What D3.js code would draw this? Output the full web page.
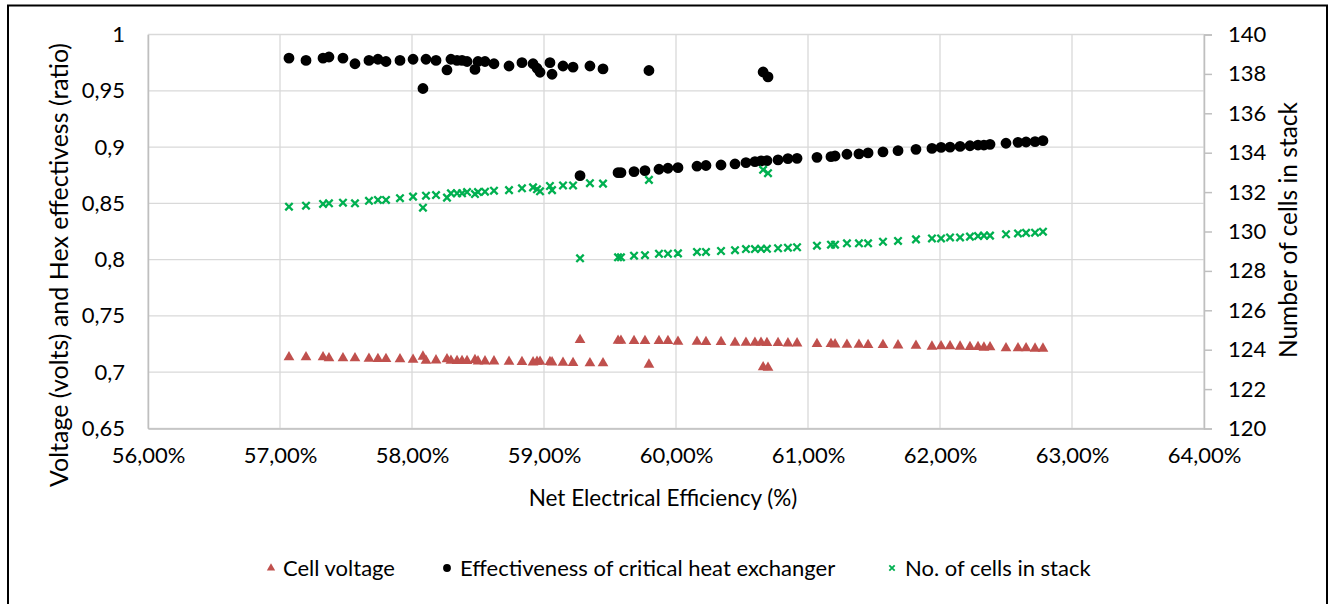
<!DOCTYPE html>
<html>
<head>
<meta charset="utf-8">
<script src="https://cdn.jsdelivr.net/npm/d3@7"></script>
<style>
  body { margin: 0; background: #fff; }
  svg { display: block; font-family: Lato, "Open Sans", sans-serif; }
</style>
</head>
<body>
<svg id="chart" width="1335" height="604"></svg>
<script>

// net electrical efficiency (%), shared by all three series
const efficiency = [
    57.068, 57.197, 57.326, 57.371, 57.477, 57.568, 57.674, 57.742, 57.803, 57.909,
    58.008, 58.083, 58.106, 58.182, 58.265, 58.295, 58.341, 58.379, 58.417, 58.477,
    58.500, 58.553, 58.621, 58.735, 58.833, 58.917, 58.947, 58.970, 59.045, 59.061,
    59.144, 59.220, 59.273, 59.348, 59.447, 59.561, 59.583, 59.682, 59.765, 59.795,
    59.871, 59.939, 60.015, 60.159, 60.227, 60.341, 60.447, 60.530, 60.598, 60.644,
    60.660, 60.689, 60.697, 60.773, 60.848, 60.917, 61.068, 61.174, 61.205, 61.295,
    61.386, 61.455, 61.568, 61.682, 61.818, 61.939, 62.008, 62.076, 62.152, 62.227,
    62.288, 62.333, 62.379, 62.500, 62.591, 62.652, 62.720, 62.780
];

const cellVoltage = [
    0.7133, 0.7133, 0.7133, 0.7124, 0.7124, 0.7124, 0.7121, 0.7118, 0.7118, 0.7115,
    0.7112, 0.7139, 0.7103, 0.7106, 0.7115, 0.7103, 0.7100, 0.7100, 0.7100, 0.7109,
    0.7097, 0.7097, 0.7097, 0.7094, 0.7091, 0.7088, 0.7094, 0.7094, 0.7091, 0.7088,
    0.7085, 0.7083, 0.7287, 0.7080, 0.7080, 0.7281, 0.7281, 0.7278, 0.7278, 0.7068,
    0.7278, 0.7278, 0.7272, 0.7272, 0.7269, 0.7269, 0.7263, 0.7263, 0.7263, 0.7263,
    0.7045, 0.7260, 0.7040, 0.7260, 0.7257, 0.7257, 0.7251, 0.7251, 0.7248, 0.7245,
    0.7245, 0.7242, 0.7242, 0.7239, 0.7236, 0.7228, 0.7231, 0.7231, 0.7228, 0.7225,
    0.7225, 0.7219, 0.7222, 0.7213, 0.7213, 0.7213, 0.7210, 0.7210
];

const hexEffectiveness = [
    0.979, 0.977, 0.979, 0.980, 0.979, 0.974, 0.977, 0.978, 0.976, 0.977,
    0.978, 0.952, 0.978, 0.977, 0.9685, 0.978, 0.977, 0.977, 0.976, 0.969,
    0.976, 0.976, 0.974, 0.972, 0.975, 0.974, 0.970, 0.9665, 0.975, 0.9647,
    0.972, 0.971, 0.8746, 0.972, 0.9694, 0.8773, 0.8773, 0.8782, 0.8791, 0.968,
    0.8803, 0.8812, 0.8817, 0.8830, 0.8836, 0.8841, 0.8850, 0.8862, 0.8871, 0.8877,
    0.9667, 0.8880, 0.9623, 0.8886, 0.8897, 0.8900, 0.8909, 0.8915, 0.8921, 0.8936,
    0.8939, 0.8948, 0.8957, 0.8968, 0.8980, 0.8988, 0.8997, 0.9000, 0.9006, 0.9012,
    0.9018, 0.9018, 0.9024, 0.9034, 0.9042, 0.9045, 0.9048, 0.9057
];

const cellsInStack = [
    131.26, 131.31, 131.40, 131.43, 131.46, 131.43, 131.56, 131.60, 131.60, 131.69,
    131.77, 131.21, 131.82, 131.85, 131.72, 131.94, 131.94, 131.94, 132.00, 131.90,
    132.00, 132.02, 132.07, 132.10, 132.19, 132.24, 132.14, 132.04, 132.31, 132.10,
    132.34, 132.34, 128.64, 132.45, 132.43, 128.69, 128.69, 128.77, 128.80, 132.62,
    128.87, 128.87, 128.89, 128.96, 128.96, 129.01, 129.05, 129.11, 129.11, 129.12,
    133.13, 129.12, 132.96, 129.15, 129.18, 129.20, 129.28, 129.33, 129.33, 129.40,
    129.40, 129.40, 129.48, 129.52, 129.60, 129.65, 129.65, 129.70, 129.70, 129.74,
    129.77, 129.79, 129.79, 129.86, 129.90, 129.93, 129.94, 129.99
];

const xTicks = [56, 57, 58, 59, 60, 61, 62, 63, 64];
const leftTicks = [0.65, 0.7, 0.75, 0.8, 0.85, 0.9, 0.95, 1];
const rightTicks = [120, 122, 124, 126, 128, 130, 132, 134, 136, 138, 140];

const seriesNames = ["Cell voltage", "Effectiveness of critical heat exchanger", "No. of cells in stack"];

const locale = d3.formatLocale({decimal: ",", thousands: ".", grouping: [3], currency: ["", "€"]});
const fmtPct = d => locale.format(".2f")(d) + "%";
const fmtLeft = locale.format("~g");

const svg = d3.select("#chart");

const plotLeft = 148, plotRight = 1204, plotTop = 34.5, plotBottom = 428.5;

const x = d3.scaleLinear().domain([56, 64]).range([plotLeft, plotRight]);
const yLeft = d3.scaleLinear().domain([0.65, 1]).range([plotBottom, plotTop]);
const yRight = d3.scaleLinear().domain([120, 140]).range([plotBottom, plotTop]);

// chart area border
svg.append("rect")
    .attr("x", 8).attr("y", 5.5)
    .attr("width", 1319).attr("height", 640)
    .attr("fill", "none").attr("stroke", "#000").attr("stroke-width", 2);

// gridlines
svg.append("g").selectAll("line.hgrid")
    .data(leftTicks).join("line").attr("class", "hgrid")
    .attr("x1", plotLeft).attr("x2", plotRight)
    .attr("y1", d => yLeft(d)).attr("y2", d => yLeft(d))
    .attr("stroke", "#d9d9d9").attr("stroke-width", 1.3);

svg.append("g").selectAll("line.vgrid")
    .data(xTicks).join("line").attr("class", "vgrid")
    .attr("x1", d => x(d)).attr("x2", d => x(d))
    .attr("y1", plotTop).attr("y2", plotBottom)
    .attr("stroke", "#d9d9d9").attr("stroke-width", 1.3);

// axes
const xAxis = svg.append("g")
    .attr("transform", `translate(0,${plotBottom})`)
    .call(d3.axisBottom(x).tickValues(xTicks).tickFormat(fmtPct).tickSize(0).tickPadding(19));

const leftAxis = svg.append("g")
    .attr("transform", `translate(${plotLeft},0)`)
    .call(d3.axisLeft(yLeft).tickValues(leftTicks).tickFormat(fmtLeft).tickSize(0).tickPadding(23));

const rightAxis = svg.append("g")
    .attr("transform", `translate(${plotRight},0)`)
    .call(d3.axisRight(yRight).tickValues(rightTicks).tickSize(8).tickPadding(16));

[xAxis, leftAxis, rightAxis].forEach(a => {
    a.select(".domain").attr("stroke", "#bfbfbf").attr("stroke-width", 1.5);
    a.selectAll(".tick line").attr("stroke", "#bfbfbf").attr("stroke-width", 1.5);
    a.selectAll("text").attr("fill", "#000").style("font-size", "22px").style("font-family", "Lato, 'Open Sans', sans-serif");
});

// axis titles
svg.append("text")
    .attr("x", 663).attr("y", 506)
    .attr("text-anchor", "middle")
    .style("font-size", "22.5px")
    .text("Net Electrical Efficiency (%)");

svg.append("text")
    .attr("transform", "translate(68,265) rotate(-90)")
    .attr("text-anchor", "middle")
    .style("font-size", "25px")
    .text("Voltage (volts) and Hex effectivess (ratio)");

svg.append("text")
    .attr("transform", "translate(1297,230) rotate(-90)")
    .attr("text-anchor", "middle")
    .style("font-size", "24.5px")
    .text("Number of cells in stack");

// markers
const points = efficiency.map((e, i) => ({e, v: cellVoltage[i], h: hexEffectiveness[i], c: cellsInStack[i]}));

const triangle = d3.symbol().type(d3.symbolTriangle).size(50);
const circle = d3.symbol().type(d3.symbolCircle).size(92);
const crossPath = s => `M${-s},${-s}L${s},${s}M${-s},${s}L${s},${-s}`;

svg.append("g").selectAll("path")
    .data(points).join("path")
    .attr("transform", d => `translate(${x(d.e)},${yLeft(d.v)})`)
    .attr("d", triangle())
    .attr("fill", "#c0504d");

svg.append("g").selectAll("path")
    .data(points).join("path")
    .attr("transform", d => `translate(${x(d.e)},${yLeft(d.h)})`)
    .attr("d", circle())
    .attr("fill", "#000");

svg.append("g").selectAll("path")
    .data(points).join("path")
    .attr("transform", d => `translate(${x(d.e)},${yRight(d.c)})`)
    .attr("d", crossPath(3.7))
    .attr("fill", "none").attr("stroke", "#00b050").attr("stroke-width", 2.3);

// legend
const legendItems = [
    {name: seriesNames[0], mx: 271, tx: 283},
    {name: seriesNames[1], mx: 447, tx: 460},
    {name: seriesNames[2], mx: 892, tx: 905}
];
const legendY = 568;

const legend = svg.append("g").selectAll("g")
    .data(legendItems).join("g");

legend.append("text")
    .attr("x", d => d.tx).attr("y", legendY + 8)
    .style("font-size", "22px")
    .text(d => d.name);

legend.filter((d, i) => i == 0).append("path")
    .attr("transform", d => `translate(${d.mx},${legendY})`)
    .attr("d", d3.symbol().type(d3.symbolTriangle).size(30)())
    .attr("fill", "#c0504d");

legend.filter((d, i) => i == 1).append("path")
    .attr("transform", d => `translate(${d.mx},${legendY})`)
    .attr("d", d3.symbol().type(d3.symbolCircle).size(48)())
    .attr("fill", "#000");

legend.filter((d, i) => i == 2).append("path")
    .attr("transform", d => `translate(${d.mx},${legendY})`)
    .attr("d", crossPath(2.7))
    .attr("fill", "none").attr("stroke", "#00b050").attr("stroke-width", 1.8);

</script>
</body>
</html>
